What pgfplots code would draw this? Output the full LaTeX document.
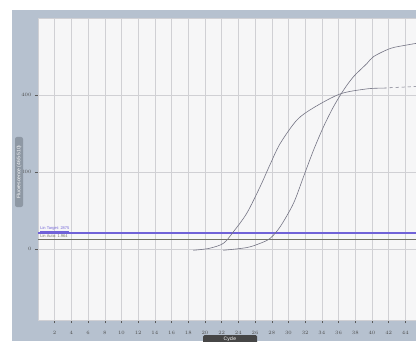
\documentclass[border=0pt]{standalone}
\usepackage{pgfplots}
\pgfplotsset{compat=1.18}
\usepackage{fontspec}
\setmainfont{Liberation Sans}
\definecolor{frameblue}{HTML}{B6C1CF}
\definecolor{plotbg}{HTML}{F6F6F7}
\definecolor{gridc}{HTML}{D0D0D4}
\definecolor{curvec}{HTML}{747484}
\definecolor{thrblue}{HTML}{7062D8}
\definecolor{throlive}{HTML}{727266}
\definecolor{boxgray}{HTML}{8E98A4}
\begin{document}
\begin{tikzpicture}[x=1pt,y=1pt]
\path[use as bounding box] (0,0) rectangle (416,341);
\fill[white] (0,0) rectangle (416,341);
\fill[frameblue] (12,0) rectangle (416,331);
\begin{axis}[
  at={(38pt,21pt)}, anchor=south west,
  scale only axis, width=378pt, height=302pt,
  xmin=0, xmax=45.27, ymin=-184, ymax=600,
  axis background/.style={fill=plotbg},
  axis line style={draw=gridc},
  xtick={2,4,...,44}, ytick={0,200,400},
  grid=major, major grid style={gridc, line width=0.5pt},
  tick align=outside, major tick length=3pt,
  tick style={gray!70!black, line width=0.4pt},
  xtick pos=bottom, ytick pos=left,
  tick label style={font=\fontsize{3.8}{4}\selectfont, text=gray!60!black},
  xticklabel style={yshift=-5pt},
  clip=true,
]
\addplot[thrblue, line width=1.6pt] coordinates {(0,41.6) (45.27,41.6)};
\addplot[throlive, line width=1.2pt] coordinates {(0,26) (45.27,26)};
\node[anchor=south west, inner sep=0.5pt, text=thrblue, font=\fontsize{4}{4}\selectfont] at (axis cs:0.2,43) {\underline{Lin Target: 2875}};
\node[anchor=south west, inner sep=0.5pt, text=throlive, font=\fontsize{4}{4}\selectfont] at (axis cs:0.2,28) {Lin Auto: 1.964};
\addplot[curvec, line width=0.6pt, smooth] coordinates {
 (18.6,-3) (20.5,2) (22.2,15) (23.4,45) (25.0,93) (26.6,162) (27.8,220)
 (29.0,274) (31.0,335) (33.0,367) (36.2,403) (39.4,416) (41.4,418)};
\addplot[curvec, line width=0.6pt, dashed] coordinates {(41.4,418) (43.0,420) (45.27,422)};
\addplot[curvec, line width=0.6pt, smooth] coordinates {
 (22.2,-3) (25.0,4) (26.6,15) (27.8,28) (29.0,58) (30.6,119) (31.8,188)
 (33.0,257) (34.2,318) (35.4,370) (36.6,413) (37.8,448) (39.4,482)
 (40.2,500) (42.2,521) (44.2,530) (45.27,534)};
\end{axis}
\node[rotate=90, fill=boxgray, rounded corners=2pt, minimum width=70pt, minimum height=8pt, inner sep=0.5pt, text=white, font=\fontsize{5}{5}\selectfont] at (19,169) {Fluorescence (465-510)};
\node[fill=gray!55!black, rounded corners=1.5pt, minimum width=54pt, minimum height=9pt, inner sep=0.5pt, text=white, font=\fontsize{5}{5}\selectfont] at (230,1.5) {Cycle};
\end{tikzpicture}
\end{document}
